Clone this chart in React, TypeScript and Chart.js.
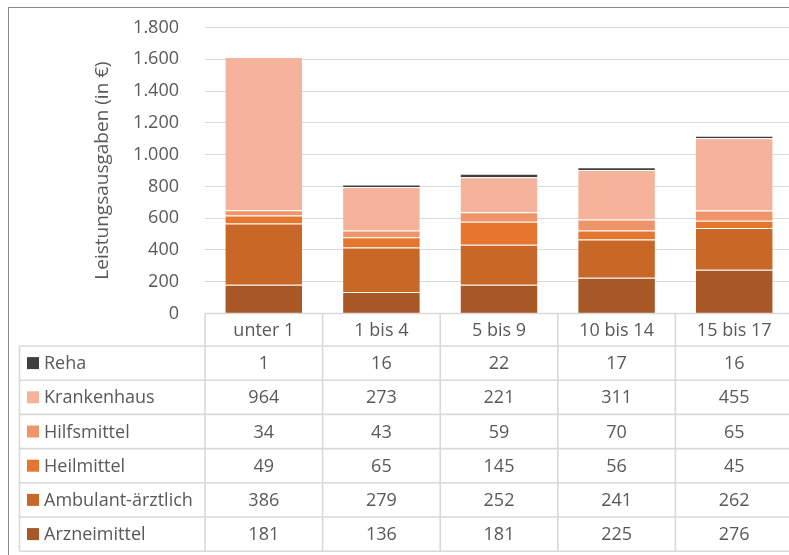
import React, { useEffect, useRef } from "react";
import { Chart, registerables } from "chart.js";

Chart.register(...registerables);

const categories = ["unter 1", "1 bis 4", "5 bis 9", "10 bis 14", "15 bis 17"];
const seriesNames = ["Arzneimittel", "Ambulant-ärztlich", "Heilmittel", "Hilfsmittel", "Krankenhaus", "Reha"];
const arzneimittel = [181, 136, 181, 225, 276];
const ambulant = [386, 279, 252, 241, 262];
const heilmittel = [49, 65, 145, 56, 45];
const hilfsmittel = [34, 43, 59, 70, 65];
const krankenhaus = [964, 273, 221, 311, 455];
const reha = [1, 16, 22, 17, 16];
const seriesColors = ["#A85826", "#C86828", "#E5762F", "#F0956A", "#F4B39A", "#404040"];
const yTicks = { min: 0, max: 1800, step: 200 };
const yTitle = "Leistungsausgaben (in €)";

const FONT = "'Open Sans', 'Noto Sans', sans-serif";
const TEXT = "#595959";
const LINE = "#D9D9D9";

const fmt = (v: number) => String(v).replace(/\B(?=(\d{3})+(?!\d))/g, ".");

const tablePlugin = {
  id: "dataTable",
  beforeDraw(chart: any) {
    const ctx = chart.ctx;
    ctx.save();
    ctx.strokeStyle = "#8A8A8A";
    ctx.lineWidth = 1;
    ctx.strokeRect(8.5, 7.5, 1000, 1000);
    ctx.restore();
  },
  afterDraw(chart: any) {
    const ctx = chart.ctx;
    const xs = chart.scales.x;
    const area = chart.chartArea;
    const n = categories.length;
    const colW = (area.right - area.left) / n;
    const headerTop = area.bottom;
    const headerBottom = 346;
    const rowH = 34.2;
    const leftX = 19.5;
    const datasets = chart.data.datasets;
    const rows = datasets.slice().reverse();
    const tableBottom = headerBottom + rowH * rows.length;

    ctx.save();
    ctx.strokeStyle = LINE;
    ctx.lineWidth = 1.6;
    ctx.beginPath();
    ctx.moveTo(area.left, headerTop);
    ctx.lineTo(area.right + 20, headerTop);
    for (let r = 0; r <= rows.length; r++) {
      const y = headerBottom + r * rowH;
      ctx.moveTo(leftX, y);
      ctx.lineTo(area.right + 20, y);
    }
    ctx.moveTo(leftX, headerBottom);
    ctx.lineTo(leftX, tableBottom);
    for (let c = 0; c <= n; c++) {
      const x = xs.getPixelForValue(c) - colW / 2;
      ctx.moveTo(x, headerTop);
      ctx.lineTo(x, tableBottom);
    }
    ctx.stroke();

    ctx.fillStyle = TEXT;
    ctx.font = `18px ${FONT}`;
    ctx.textBaseline = "middle";
    ctx.textAlign = "center";
    categories.forEach((cat, i) => {
      ctx.fillText(cat, xs.getPixelForValue(i), (headerTop + headerBottom) / 2 + 1);
    });
    rows.forEach((ds: any, r: number) => {
      const yc = headerBottom + r * rowH + rowH / 2 + 1;
      ctx.textAlign = "center";
      ctx.fillStyle = TEXT;
      ds.data.forEach((v: number, i: number) => {
        ctx.fillText(fmt(v), xs.getPixelForValue(i), yc);
      });
      ctx.fillStyle = ds.backgroundColor;
      ctx.fillRect(27, yc - 7, 12, 12);
      ctx.fillStyle = TEXT;
      ctx.textAlign = "left";
      ctx.fillText(ds.label, 44, yc);
    });
    ctx.restore();
  },
};

export default function App() {
  const ref = useRef<HTMLCanvasElement | null>(null);

  useEffect(() => {
    if (!ref.current) return;
    const values = [arzneimittel, ambulant, heilmittel, hilfsmittel, krankenhaus, reha];
    const chart = new Chart(ref.current, {
      type: "bar",
      data: {
        labels: categories,
        datasets: seriesNames.map((name, i) => ({
          label: name,
          data: values[i],
          backgroundColor: seriesColors[i],
          borderColor: "rgba(255,255,255,0.22)",
          borderWidth: 1,
          categoryPercentage: 1,
          barPercentage: 0.667,
        })),
      },
      options: {
        responsive: false,
        animation: false,
        devicePixelRatio: 1,
        layout: { padding: { left: 87, top: 27.5, right: 7, bottom: 241.5 } },
        plugins: { legend: { display: false }, tooltip: { enabled: false } },
        scales: {
          x: {
            stacked: true,
            display: false,
          },
          y: {
            stacked: true,
            min: yTicks.min,
            max: yTicks.max,
            border: { display: false },
            grid: { color: LINE, lineWidth: 1, drawTicks: false },
            ticks: {
              stepSize: yTicks.step,
              padding: 26,
              color: TEXT,
              font: { family: FONT, size: 18 },
              callback: (v: any) => fmt(Number(v)),
            },
            title: {
              display: true,
              text: yTitle,
              color: TEXT,
              font: { family: FONT, size: 19, lineHeight: 1.2 },
              padding: { top: 4, bottom: 4 },
            },
            afterFit: (scale: any) => {
              scale.width = 118;
              scale.paddingTop = 10;
              scale.paddingBottom = 10;
            },
          },
        },
      },
      plugins: [tablePlugin],
    });
    return () => chart.destroy();
  }, []);

  return (
    <div style={{ position: "absolute", left: 0, top: 0, width: 789, height: 555, overflow: "hidden", background: "#fff" }}>
      <canvas ref={ref} width={800} height={555} style={{ display: "block", width: 800, height: 555 }} />
    </div>
  );
}
